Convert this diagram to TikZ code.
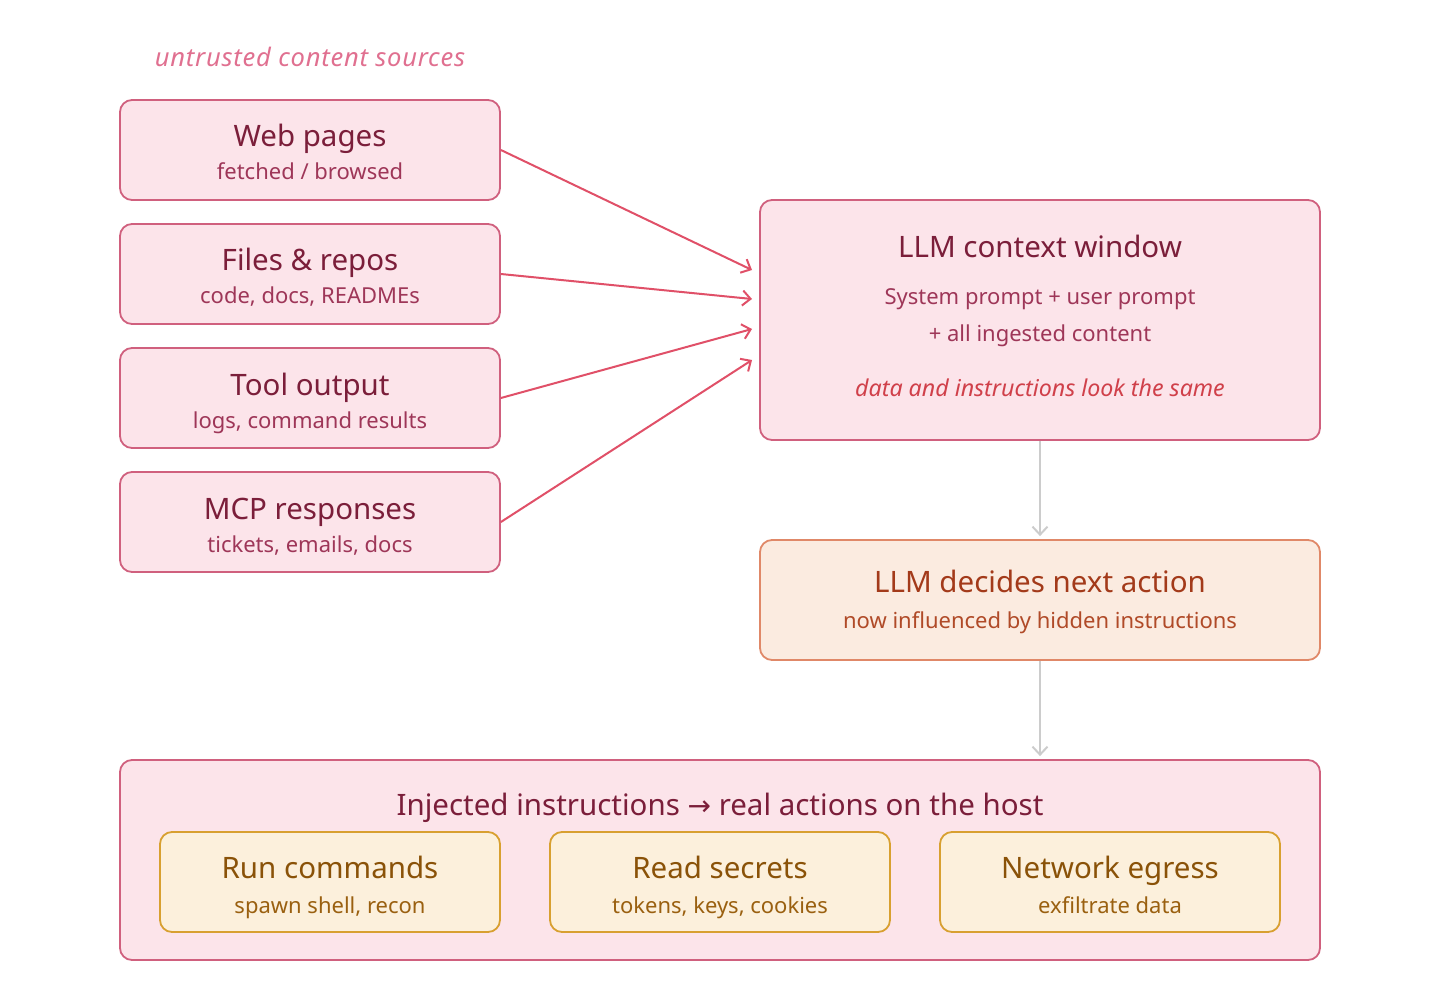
\documentclass[tikz,border=0pt]{standalone}
\usepackage{fontspec}
\setmainfont{Noto Sans}
\newfontfamily\arrowfont{DejaVu Sans}
\newfontfamily\spacedfont[LetterSpace=3]{Noto Sans}
\usetikzlibrary{arrows.meta}
\definecolor{pinkfill}{HTML}{FCE4EA}
\definecolor{pinkline}{HTML}{D0607E}
\definecolor{maroon}{HTML}{7B1E3A}
\definecolor{maroonsub}{HTML}{9E3658}
\definecolor{labelpink}{HTML}{E07090}
\definecolor{redital}{HTML}{D0404A}
\definecolor{arrowred}{HTML}{E05068}
\definecolor{greyarrow}{HTML}{CCCCCC}
\definecolor{orfill}{HTML}{FBEBE0}
\definecolor{orline}{HTML}{E08868}
\definecolor{ortitle}{HTML}{A33A1A}
\definecolor{orsub}{HTML}{B04A28}
\definecolor{yfill}{HTML}{FCF0DC}
\definecolor{yline}{HTML}{D8A030}
\definecolor{ytitle}{HTML}{8A5208}
\definecolor{ysub}{HTML}{9A6010}
\tikzset{
  box/.style={draw, line width=1.8pt, rounded corners=12pt, inner sep=0pt},
  pinkbox/.style={box, draw=pinkline, fill=pinkfill},
  orbox/.style={box, draw=orline, fill=orfill},
  ybox/.style={box, draw=yline, fill=yfill},
  ttl/.style={anchor=base, inner sep=0pt, font=\fontsize{29.5}{34}\selectfont},
  sub/.style={anchor=base, inner sep=0pt, font=\fontsize{22}{26}\selectfont},
  ital/.style={anchor=base, inner sep=0pt, font=\fontsize{23.2}{27}\selectfont\itshape},
  feed/.style={draw=arrowred, line width=2pt, -{Straight Barb[length=8pt,width=15pt,line width=2pt]}},
  flow/.style={draw=greyarrow, line width=2pt, -{Straight Barb[length=8pt,width=15pt,line width=2pt]}, shorten >=3pt}
}
\begin{document}
\begin{tikzpicture}[x=1pt,y=-1pt]
\useasboundingbox (0,0) rectangle (1440,1000);
% label
\node[anchor=base, inner sep=0pt, text=labelpink, font=\spacedfont\fontsize{25.5}{30}\selectfont\itshape] (lbl) at (310,67) {untrusted content sources};
% source boxes
\node[pinkbox, minimum width=380pt, minimum height=100pt] (web) at (310,150) {};
\node[ttl, text=maroon] (webt) at (310,147) {Web pages};
\node[sub, text=maroonsub] (webs) at (310,180) {fetched / browsed};
\node[pinkbox, minimum width=380pt, minimum height=100pt] (files) at (310,274) {};
\node[ttl, text=maroon] (filest) at (310,271) {Files \& repos};
\node[sub, text=maroonsub] (filess) at (310,304) {code, docs, READMEs};
\node[pinkbox, minimum width=380pt, minimum height=100pt] (tool) at (310,398) {};
\node[ttl, text=maroon] (toolt) at (310,395) {Tool output};
\node[sub, text=maroonsub] (tools) at (310,428) {logs, command results};
\node[pinkbox, minimum width=380pt, minimum height=100pt] (mcp) at (310,522) {};
\node[ttl, text=maroon] (mcpt) at (310,519) {MCP responses};
\node[sub, text=maroonsub] (mcps) at (310,552) {tickets, emails, docs};
% context window
\node[pinkbox, minimum width=560pt, minimum height=240pt] (ctx) at (1040,320) {};
\node[ttl, text=maroon] (ctxt) at (1040,258) {LLM context window};
\node[sub, text=maroonsub] (ctxa) at (1040,305) {System prompt + user prompt};
\node[sub, text=maroonsub] (ctxb) at (1040,341) {+ all ingested content};
\node[ital, text=redital] (ctxc) at (1040,396) {data and instructions look the same};
% decides
\node[orbox, minimum width=560pt, minimum height=120pt] (dec) at (1040,600) {};
\node[ttl, text=ortitle] (dect) at (1040,592) {LLM decides next action};
\node[sub, text=orsub] (decs) at (1040,628) {now influenced by hidden instructions};
% bottom
\node[pinkbox, minimum width=1200pt, minimum height=200pt] (inj) at (720,860) {};
\node[ttl, text=maroon] (injt) at (720,815) {Injected instructions {\arrowfont\fontsize{28}{30}\selectfont →} real actions on the host};
\node[ybox, minimum width=340pt, minimum height=100pt] (run) at (330,882) {};
\node[ttl, text=ytitle] (runt) at (330,878) {Run commands};
\node[sub, text=ysub] (runs) at (330,913) {spawn shell, recon};
\node[ybox, minimum width=340pt, minimum height=100pt] (sec) at (720,882) {};
\node[ttl, text=ytitle] (sect) at (720,878) {Read secrets};
\node[sub, text=ysub] (secs) at (720,913) {tokens, keys, cookies};
\node[ybox, minimum width=340pt, minimum height=100pt] (net) at (1110,882) {};
\node[ttl, text=ytitle] (nett) at (1110,878) {Network egress};
\node[sub, text=ysub] (nets) at (1110,913) {exfiltrate data};
% feed arrows
\coordinate (in1) at (752,270);
\coordinate (in2) at (752,299);
\coordinate (in3) at (752,329);
\coordinate (in4) at (752,360);
\draw[feed] (web.east) -- (in1);
\draw[feed] (files.east) -- (in2);
\draw[feed] (tool.east) -- (in3);
\draw[feed] (mcp.east) -- (in4);
% flow arrows
\draw[flow] (ctx.south) -- (dec.north);
\draw[flow] (dec.south) -- (inj.north -| dec.south);
\end{tikzpicture}
\end{document}
